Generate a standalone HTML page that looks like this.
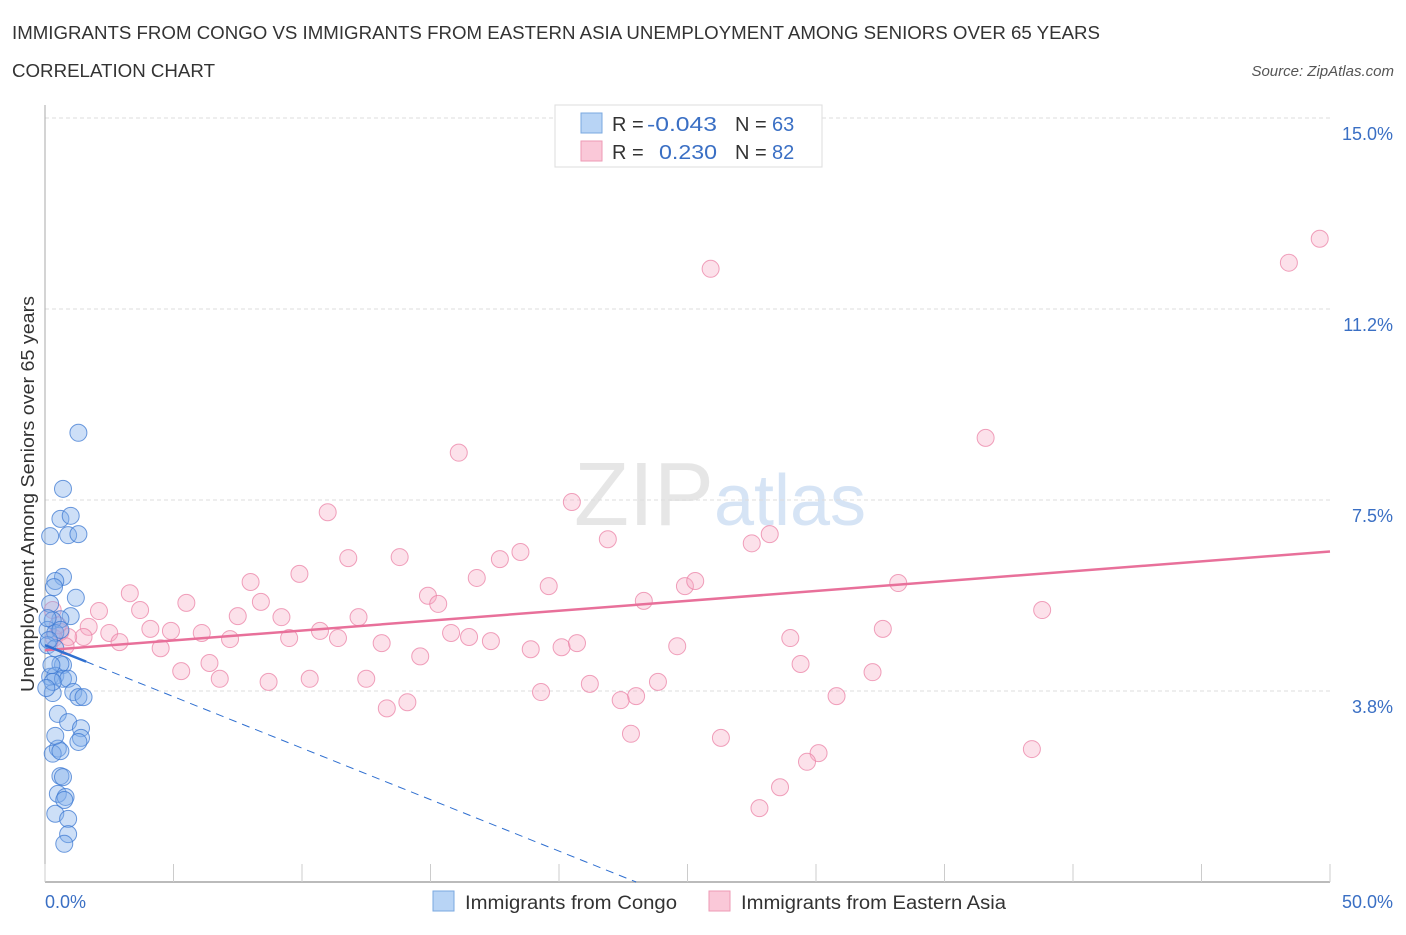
<!DOCTYPE html>
<html><head><meta charset="utf-8"><style>
body{margin:0;background:#fff;font-family:"Liberation Sans",sans-serif;}
svg text{font-family:"Liberation Sans",sans-serif;}
</style></head><body>
<svg id="chart" width="1406" height="930" viewBox="0 0 1406 930">
<text x="12" y="39" font-size="18" fill="#333" textLength="1088" lengthAdjust="spacingAndGlyphs">IMMIGRANTS FROM CONGO VS IMMIGRANTS FROM EASTERN ASIA UNEMPLOYMENT AMONG SENIORS OVER 65 YEARS</text>
<text x="12" y="77" font-size="18" fill="#333" textLength="203" lengthAdjust="spacingAndGlyphs">CORRELATION CHART</text>
<text x="1394" y="76" font-size="15" fill="#555" font-style="italic" text-anchor="end">Source: ZipAtlas.com</text>
<text x="720" y="525" font-size="90" fill="#e6e6e6" text-anchor="middle" font-family="Liberation Serif">ZIP<tspan fill="#d6e4f5" font-family="Liberation Sans" font-size="72">atlas</tspan></text>
<text transform="translate(34,494) rotate(-90)" font-size="18" fill="#333" text-anchor="middle" textLength="396" lengthAdjust="spacingAndGlyphs">Unemployment Among Seniors over 65 years</text>
<g id="grid"></g><g id="axes"></g><g id="marks"></g>
<g>
<rect x="555" y="105" width="267" height="62" fill="#fff" stroke="#ddd"/>
<rect x="581" y="113" width="21" height="20" fill="#b8d4f5" stroke="#7aa8e0"/>
<rect x="581" y="141" width="21" height="20" fill="#fac8d8" stroke="#ee9ab5"/>
<text x="612" y="131" font-size="20" fill="#333">R = <tspan x="647" fill="#3a6fc4" textLength="70" lengthAdjust="spacingAndGlyphs">-0.043</tspan><tspan x="735">N = </tspan><tspan x="772" fill="#3a6fc4">63</tspan></text>
<text x="612" y="159" font-size="20" fill="#333">R = <tspan x="659" fill="#3a6fc4" textLength="58" lengthAdjust="spacingAndGlyphs">0.230</tspan><tspan x="735">N = </tspan><tspan x="772" fill="#3a6fc4">82</tspan></text>
</g>
<g>
<rect x="433" y="891" width="21" height="20" fill="#b8d4f5" stroke="#7aa8e0"/>
<text x="465" y="909" font-size="19" fill="#333" textLength="212" lengthAdjust="spacingAndGlyphs">Immigrants from Congo</text>
<rect x="709" y="891" width="21" height="20" fill="#fac8d8" stroke="#ee9ab5"/>
<text x="741" y="909" font-size="19" fill="#333" textLength="265" lengthAdjust="spacingAndGlyphs">Immigrants from Eastern Asia</text>
</g>
</svg>
<script>
const yTicks=[3.8,7.5,11.2,15.0];
const yTickVals=[3.75,7.5,11.25,15];
const xTickLabels=["0.0%","50.0%"];
const congoX=[1.3,0.7,0.6,1.0,0.9,1.3,0.2,0.7,0.4,0.35,1.2,0.2,1.0,0.6,0.3,0.1,0.4,0.6,0.1,0.4,0.7,0.6,0.2,0.4,0.7,0.9,0.3,1.1,1.3,1.5,0.5,0.9,1.4,1.4,1.3,0.5,0.3,0.6,0.6,0.7,0.5,0.8,0.75,0.4,0.9,0.9,0.75,0.1,0.15,0.3,0.05,0.25,0.4];
const congoY=[8.82,7.72,7.13,7.19,6.81,6.83,6.79,5.99,5.91,5.79,5.58,5.46,5.22,5.16,5.14,4.95,4.89,4.95,4.65,4.59,4.26,4.28,4.03,4.05,3.99,3.99,3.71,3.73,3.63,3.63,3.30,3.14,3.02,2.83,2.75,2.62,2.52,2.57,2.08,2.06,1.73,1.67,1.61,1.34,1.24,0.94,0.75,5.18,4.75,3.93,3.81,4.26,2.87];
const asiaX=[25.9,48.4,49.6,16.1,36.6,11.0,20.5,21.9,27.5,28.2,11.8,13.8,17.7,18.5,16.8,19.6,24.9,25.3,33.2,8.0,9.9,3.3,5.5,3.7,2.1,8.4,7.5,9.2,14.9,15.3,12.2,23.3,38.8,4.1,4.9,6.1,7.2,2.5,2.9,1.7,1.5,0.9,0.6,0.35,0.8,4.5,9.5,10.7,11.4,13.1,15.8,16.5,17.35,18.9,20.1,20.7,24.6,29.0,32.6,14.6,5.3,6.4,6.8,8.7,10.3,12.5,29.4,32.2,23.85,21.2,23.0,19.3,22.4,13.3,14.1,30.8,22.8,26.3,30.1,29.65,38.4,28.6,27.8,0.3,0.5];
const asiaY=[12.04,12.16,12.63,8.43,8.72,7.26,7.46,6.73,6.65,6.83,6.36,6.38,6.34,6.48,5.97,5.81,5.81,5.91,5.87,5.89,6.05,5.67,5.48,5.34,5.32,5.50,5.22,5.20,5.62,5.46,5.20,5.52,5.34,4.97,4.93,4.89,4.77,4.89,4.71,5.01,4.81,4.81,4.91,4.79,4.63,4.59,4.79,4.93,4.79,4.69,4.89,4.81,4.73,4.57,4.61,4.69,4.63,4.79,4.97,4.43,4.14,4.30,3.99,3.93,3.99,3.99,4.28,4.12,3.93,3.89,3.65,3.73,3.57,3.41,3.53,3.65,2.91,2.83,2.53,2.36,2.61,1.86,1.45,5.34,5.04];
const trendAsia=[4.55,6.49];
const trendCongo=[4.65,-0.043];
const X0=45,X1=1330,YB=882,PX=50.93;
const xs=v=>X0+v/50*(X1-X0), ys=v=>YB-v*PX;
const NS="http://www.w3.org/2000/svg";
function mk(tag,attrs,parent){const e=document.createElementNS(NS,tag);for(const k in attrs)e.setAttribute(k,attrs[k]);parent.appendChild(e);return e;}
const grid=document.getElementById('grid'),axes=document.getElementById('axes'),marks=document.getElementById('marks');
yTickVals.forEach((v,i)=>{
 const l=mk('line',{x1:X0,x2:1330,y1:ys(v),y2:ys(v),stroke:'#ddd','stroke-dasharray':'4,3'},grid);
 
 
 const t=mk('text',{x:1393,y:ys(v)+22,'font-size':18,fill:'#3a6fc4','text-anchor':'end'},axes);
 t.textContent=yTicks[i].toFixed(1)+'%';
 
 
});
const ya=mk('line',{x1:X0,x2:X0,y1:105,y2:YB,stroke:'#aaa'},axes);


const xa=mk('line',{x1:X0,x2:1330,y1:YB,y2:YB,stroke:'#bbb','stroke-width':2},axes);


for(let i=0;i<=10;i++){const t=mk('line',{x1:xs(i*5),x2:xs(i*5),y1:864,y2:YB,stroke:'#ccc'},axes);
 
 }
[[0,'start',45],[50,'end',1393]].forEach((a,i)=>{const t=mk('text',{x:a[2],y:908,'font-size':18,fill:'#3a6fc4','text-anchor':a[1]},axes);t.textContent=xTickLabels[i];
 
 });
asiaX.forEach((x,i)=>{const c=mk('circle',{cx:xs(x),cy:ys(asiaY[i]),r:8.5,fill:'rgba(246,170,195,0.35)',stroke:'rgba(235,130,165,0.75)','stroke-width':1},marks);
 
 });
congoX.forEach((x,i)=>{const c=mk('circle',{cx:xs(x),cy:ys(congoY[i]),r:8.5,fill:'rgba(130,175,235,0.4)',stroke:'rgba(60,120,210,0.75)','stroke-width':1},marks);
 
 });
const ta=mk('line',{x1:xs(0),y1:ys(trendAsia[0]),x2:xs(50),y2:ys(trendAsia[1]),stroke:'#e8709a','stroke-width':2.5},marks);


const cz=23.0;
const cy=v=>trendCongo[0]-trendCongo[0]*v/cz;
const tc=mk('line',{x1:xs(0),y1:ys(cy(0)),x2:xs(1.6),y2:ys(cy(1.6)),stroke:'#2f6fd0','stroke-width':2.5},marks);


const td=mk('line',{x1:xs(1.6),y1:ys(cy(1.6)),x2:xs(cz),y2:ys(0),stroke:'#2f6fd0','stroke-width':1,'stroke-dasharray':'8,6'},marks);


</script>
</body></html>
